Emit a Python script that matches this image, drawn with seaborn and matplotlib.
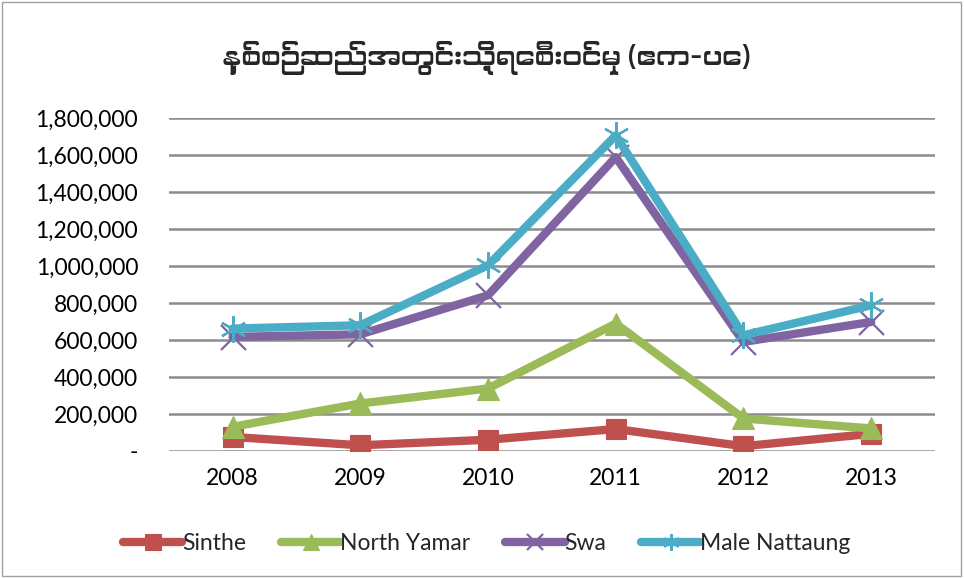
import matplotlib
matplotlib.use("Agg")
import matplotlib.pyplot as plt
from matplotlib import font_manager
from matplotlib.ticker import FuncFormatter
from matplotlib.patches import Rectangle
from matplotlib.lines import Line2D
import seaborn as sns
import pandas as pd

# --- données ---
years = [2008, 2009, 2010, 2011, 2012, 2013]
sinthe = [75000, 30000, 60000, 118000, 25000, 92000]
north_yamar = [130000, 256000, 337000, 688000, 175000, 121000]
swa = [616000, 630000, 841000, 1588000, 589000, 697000]
male_nattaung = [661000, 679000, 1003000, 1705000, 625000, 787000]
series_names = ["Sinthe", "North Yamar", "Swa", "Male Nattaung"]
title = "နှစ်စဉ်ဆည်အတွင်းသို့ရေစီးဝင်မှု (ဧက-ပေ)"

df = pd.DataFrame({"year": years, "Sinthe": sinthe, "North Yamar": north_yamar,
                   "Swa": swa, "Male Nattaung": male_nattaung})
df_long = df.melt(id_vars="year", var_name="serie", value_name="valeur")

sns.set_theme(style="white")
plt.rcParams["font.family"] = ["Lato", "DejaVu Sans"]

# police birmane si disponible
myanmar_fonts = [f.name for f in font_manager.fontManager.ttflist
                 if "myanmar" in f.name.lower() or "padauk" in f.name.lower()]
title_family = myanmar_fonts[:1] + ["Noto Sans", "DejaVu Sans"]

colors = {"Sinthe": "#C0504D", "North Yamar": "#9BBB59",
          "Swa": "#8064A2", "Male Nattaung": "#4BACC6"}
markers = {"Sinthe": "s", "North Yamar": "^", "Swa": "x", "Male Nattaung": (6, 2, 0)}
msizes = {"Sinthe": 15, "North Yamar": 16, "Swa": 18, "Male Nattaung": 19}
medges = {"Sinthe": 0.8, "North Yamar": 0.8, "Swa": 1.6, "Male Nattaung": 1.6}

fig = plt.figure(figsize=(9.64, 5.78), dpi=100)
ax = fig.add_axes([0.175, 0.22, 0.795, 0.576])

for name in series_names:
    sub = df_long[df_long["serie"] == name]
    sns.lineplot(data=sub, x="year", y="valeur", ax=ax, color=colors[name],
                 linewidth=6, marker=markers[name], markersize=msizes[name],
                 markeredgewidth=medges[name], markeredgecolor=colors[name],
                 legend=False, solid_capstyle="round")

ax.set_xlim(2007.5, 2013.5)
ax.set_ylim(0, 1800000)
ax.set_yticks(range(0, 1800001, 200000))
ax.set_xticks(years)
ax.yaxis.set_major_formatter(FuncFormatter(lambda v, p: "-" if v == 0 else f"{int(v):,}"))
ax.tick_params(axis="both", labelsize=16.5, length=0, colors="black")
ax.tick_params(axis="y", pad=22)
ax.tick_params(axis="x", pad=12)
ax.grid(axis="y", color="#8C8C8C", linewidth=1.8)
ax.set_axisbelow(True)
for s in ax.spines.values():
    s.set_visible(False)
ax.set_xlabel("")
ax.set_ylabel("")

fig.text(0.505, 0.9, title, ha="center", va="center", fontsize=19.5,
         fontweight="bold", family=title_family)

# légende avec des marqueurs plus petits
handles = [Line2D([], [], color=colors[n], linewidth=6, solid_capstyle="round",
                  marker=markers[n], markersize=12, markeredgewidth=medges[n],
                  markeredgecolor=colors[n]) for n in series_names]
fig.legend(handles, series_names, loc="center", bbox_to_anchor=(0.505, 0.06), ncol=4,
           frameon=False, fontsize=16.5, handlelength=2.6, handletextpad=0.0,
           columnspacing=1.5)

fig.patches.append(Rectangle((0.002, 0.003), 0.995, 0.994, transform=fig.transFigure,
                             fill=False, edgecolor="#A0A0A0", linewidth=1))

plt.savefig("out.png", dpi=100)
plt.close()
